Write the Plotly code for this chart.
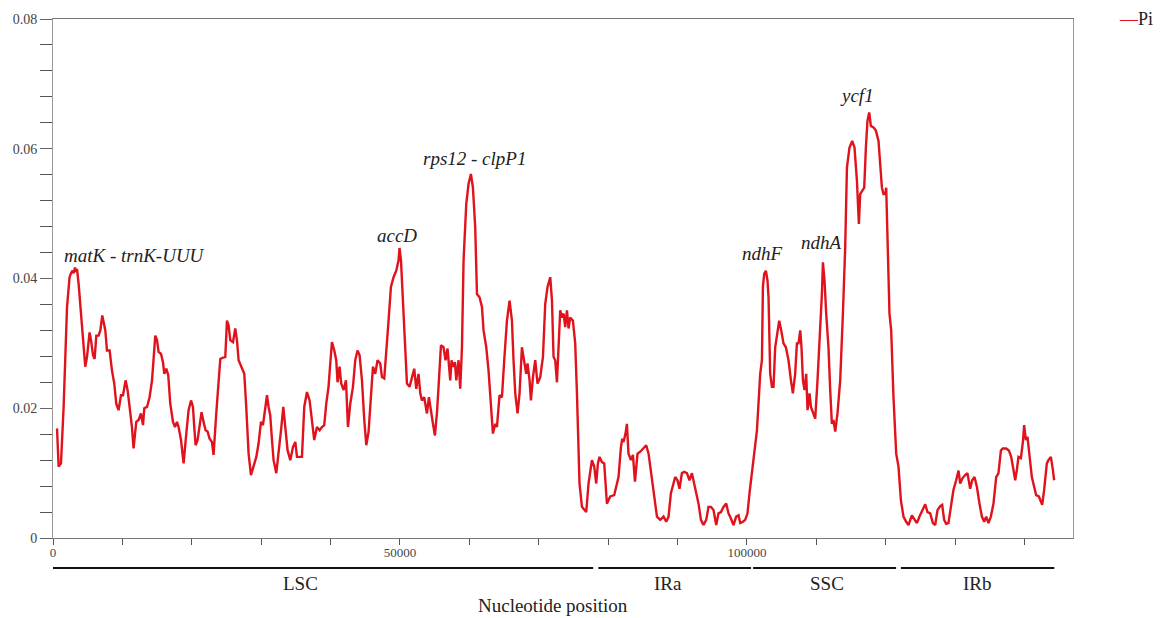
import plotly.graph_objects as go

# Sliding-window nucleotide diversity (Pi) along the chloroplast genome
position = [
    580, 810, 1150, 1530, 2020, 2390, 2590, 2820, 2970, 3170,
    3360, 3460, 3690, 3930, 4180, 4410, 4650, 4900, 5270, 5480,
    5760, 6000, 6240, 6570, 6820, 7100, 7290, 7540, 7780, 8160,
    8500, 8830, 9120, 9450, 9800, 10090, 10460, 10750, 11040, 11380,
    11610, 12000, 12340, 12680, 12970, 13160, 13550, 13920, 14270, 14500,
    14740, 14990, 15220, 15560, 15850, 16040, 16330, 16610, 16900, 17290,
    17580, 17870, 18100, 18450, 18820, 19210, 19540, 19890, 20170, 20360,
    20550, 20840, 21130, 21410, 21700, 21990, 22280, 22570, 22910, 23140,
    23530, 23860, 24110, 24500, 24830, 25070, 25300, 25550, 25940, 26270,
    26510, 26750, 27240, 27570, 27850, 28190, 28530, 28910, 29300, 29630,
    29970, 30260, 30590, 30840, 31070, 31310, 31560, 31790, 32180, 32510,
    32860, 33190, 33470, 33810, 34200, 34580, 34920, 35160, 35540, 35880,
    36210, 36600, 36980, 37320, 37650, 38040, 38420, 38760, 39090, 39380,
    39710, 39960, 40200, 40540, 40820, 41010, 41300, 41540, 41880, 42220,
    42510, 42840, 43230, 43560, 43890, 44180, 44530, 44860, 45150, 45480,
    45820, 46110, 46440, 46770, 47160, 47410, 47740, 48030, 48360, 48700,
    49080, 49470, 49800, 49940, 50150, 50430, 50770, 51010, 51390, 51730,
    52060, 52350, 52680, 52930, 53170, 53500, 53890, 54180, 54470, 54760,
    55040, 55330, 55620, 55910, 56280, 56570, 56860, 57060, 57250, 57440,
    57640, 57930, 58120, 58450, 58690, 58940, 59170, 59560, 59890, 60230,
    60520, 60850, 61100, 61470, 61820, 62050, 62440, 62770, 63120, 63400,
    63740, 63980, 64350, 64700, 65030, 65420, 65800, 66140, 66370, 66620,
    66950, 67240, 67580, 67910, 68200, 68390, 68680, 68880, 69170, 69500,
    69830, 70220, 70610, 70940, 71270, 71660, 71910, 72140, 72380, 72630,
    72910, 73100, 73350, 73580, 73820, 74070, 74300, 74540, 74930, 75260,
    75510, 75740, 75880, 76230, 76560, 76850, 77180, 77670, 78000, 78290,
    78530, 78760, 79110, 79440, 79830, 80310, 80880, 81270, 81500, 81850,
    82040, 82220, 82510, 82710, 82940, 83290, 83580, 83870, 84240, 84630,
    85100, 85490, 85830, 86170, 86550, 87040, 87510, 87990, 88380, 88710,
    89050, 89430, 89670, 90000, 90290, 90640, 90970, 91360, 91730, 92080,
    92310, 92700, 93030, 93380, 93750, 94140, 94470, 94820, 95190, 95580,
    95910, 96260, 96630, 97020, 97350, 97700, 98070, 98460, 98800, 99040,
    99430, 99760, 100090, 100380, 100730, 101060, 101450, 101920, 102170, 102310,
    102500, 102740, 102970, 103120, 103360, 103610, 103840, 104080, 104330, 104660,
    104950, 105280, 105620, 106000, 106350, 106630, 106960, 107210, 107440, 107690,
    107870, 108080, 108310, 108550, 108740, 109030, 109230, 109520, 109850, 110180,
    110570, 110810, 110960, 111190, 111430, 111760, 112010, 112250, 112480, 112730,
    113060, 113450, 113840, 114170, 114420, 114790, 115180, 115510, 115860, 116140,
    116330, 116580, 116910, 117150, 117380, 117630, 117870, 118250, 118590, 118970,
    119210, 119460, 119690, 119930, 120080, 120270, 120550, 120800, 121130, 121520,
    121850, 122200, 122570, 122960, 123290, 123780, 124110, 124500, 124880, 125370,
    125700, 126030, 126420, 126810, 127140, 127470, 127860, 128150, 128430, 128720,
    129050, 129400, 129770, 130160, 130500, 130740, 131070, 131460, 131790, 132180,
    132470, 132800, 133150, 133520, 133870, 134200, 134490, 134820, 135160, 135540,
    135930, 136260, 136610, 136890, 137370, 137760, 138090, 138420, 138670, 138910,
    139140, 139490, 139780, 139960, 140210, 140440, 140730, 141070, 141400, 141690,
    142080, 142560, 142840, 143230, 143460, 143810, 144100, 144280,
]

pi_value = [
    0.0169, 0.0110, 0.0115, 0.0202, 0.0356, 0.0402, 0.0408, 0.0412, 0.0408, 0.0417,
    0.0410, 0.0415, 0.0392, 0.0356, 0.0320, 0.0300, 0.0264, 0.0279, 0.0317, 0.0305,
    0.0282, 0.0276, 0.0312, 0.0312, 0.0320, 0.0343, 0.0335, 0.0320, 0.0289, 0.0289,
    0.0258, 0.0238, 0.0207, 0.0197, 0.0220, 0.0220, 0.0243, 0.0228, 0.0202, 0.0171,
    0.0138, 0.0179, 0.0182, 0.0192, 0.0174, 0.0200, 0.0202, 0.0217, 0.0243, 0.0274,
    0.0312, 0.0305, 0.0287, 0.0284, 0.0271, 0.0253, 0.0261, 0.0251, 0.0207, 0.0179,
    0.0171, 0.0179, 0.0171, 0.0151, 0.0115, 0.0161, 0.0197, 0.0212, 0.0202, 0.0171,
    0.0143, 0.0151, 0.0176, 0.0194, 0.0179, 0.0166, 0.0164, 0.0153, 0.0148, 0.0128,
    0.0192, 0.0238, 0.0276, 0.0278, 0.0279, 0.0335, 0.0328, 0.0305, 0.0302, 0.0323,
    0.0305, 0.0274, 0.0261, 0.0253, 0.0202, 0.0130, 0.0097, 0.0110, 0.0125, 0.0146,
    0.0179, 0.0174, 0.0202, 0.0220, 0.0202, 0.0189, 0.0151, 0.0120, 0.0100, 0.0130,
    0.0166, 0.0202, 0.0171, 0.0135, 0.0120, 0.0140, 0.0148, 0.0125, 0.0125, 0.0125,
    0.0202, 0.0225, 0.0212, 0.0176, 0.0151, 0.0171, 0.0166, 0.0171, 0.0174, 0.0207,
    0.0233, 0.0269, 0.0302, 0.0289, 0.0274, 0.0240, 0.0264, 0.0238, 0.0228, 0.0243,
    0.0171, 0.0207, 0.0233, 0.0274, 0.0289, 0.0282, 0.0243, 0.0182, 0.0143, 0.0164,
    0.0215, 0.0264, 0.0253, 0.0274, 0.0269, 0.0248, 0.0246, 0.0294, 0.0335, 0.0387,
    0.0402, 0.0412, 0.0428, 0.0447, 0.0428, 0.0366, 0.0294, 0.0238, 0.0233, 0.0248,
    0.0261, 0.0230, 0.0253, 0.0223, 0.0212, 0.0217, 0.0192, 0.0217, 0.0194, 0.0176,
    0.0158, 0.0192, 0.0243, 0.0297, 0.0294, 0.0274, 0.0292, 0.0258, 0.0243, 0.0274,
    0.0264, 0.0271, 0.0243, 0.0274, 0.0230, 0.0294, 0.0428, 0.0515, 0.0546, 0.0561,
    0.0540, 0.0479, 0.0376, 0.0371, 0.0356, 0.0320, 0.0294, 0.0258, 0.0207, 0.0161,
    0.0176, 0.0171, 0.0220, 0.0217, 0.0274, 0.0335, 0.0366, 0.0335, 0.0274, 0.0223,
    0.0192, 0.0223, 0.0294, 0.0274, 0.0253, 0.0269, 0.0243, 0.0212, 0.0248, 0.0274,
    0.0238, 0.0248, 0.0279, 0.0361, 0.0387, 0.0402, 0.0366, 0.0279, 0.0274, 0.0240,
    0.0310, 0.0351, 0.0340, 0.0346, 0.0325, 0.0351, 0.0323, 0.0340, 0.0335, 0.0300,
    0.0223, 0.0130, 0.0084, 0.0048, 0.0043, 0.0040, 0.0084, 0.0120, 0.0110, 0.0084,
    0.0115, 0.0125, 0.0117, 0.0115, 0.0053, 0.0064, 0.0066, 0.0084, 0.0094, 0.0140,
    0.0153, 0.0148, 0.0161, 0.0176, 0.0130, 0.0120, 0.0128, 0.0087, 0.0130, 0.0133,
    0.0138, 0.0143, 0.0130, 0.0105, 0.0069, 0.0033, 0.0028, 0.0033, 0.0025, 0.0033,
    0.0069, 0.0084, 0.0094, 0.0089, 0.0076, 0.0100, 0.0102, 0.0100, 0.0089, 0.0100,
    0.0089, 0.0074, 0.0053, 0.0028, 0.0020, 0.0028, 0.0048, 0.0048, 0.0043, 0.0020,
    0.0038, 0.0040, 0.0048, 0.0053, 0.0038, 0.0030, 0.0020, 0.0033, 0.0035, 0.0023,
    0.0025, 0.0028, 0.0038, 0.0069, 0.0100, 0.0125, 0.0166, 0.0253, 0.0274, 0.0387,
    0.0407, 0.0412, 0.0397, 0.0371, 0.0253, 0.0233, 0.0233, 0.0294, 0.0310, 0.0335,
    0.0320, 0.0300, 0.0294, 0.0274, 0.0243, 0.0223, 0.0253, 0.0300, 0.0300, 0.0320,
    0.0294, 0.0243, 0.0228, 0.0253, 0.0197, 0.0223, 0.0202, 0.0192, 0.0184, 0.0243,
    0.0320, 0.0376, 0.0425, 0.0397, 0.0346, 0.0294, 0.0228, 0.0176, 0.0182, 0.0164,
    0.0192, 0.0243, 0.0346, 0.0448, 0.0571, 0.0602, 0.0612, 0.0602, 0.0551, 0.0484,
    0.0530, 0.0535, 0.0540, 0.0602, 0.0643, 0.0656, 0.0635, 0.0633, 0.0628, 0.0612,
    0.0571, 0.0540, 0.0530, 0.0530, 0.0540, 0.0448, 0.0346, 0.0320, 0.0217, 0.0130,
    0.0110, 0.0058, 0.0033, 0.0025, 0.0020, 0.0035, 0.0030, 0.0023, 0.0033, 0.0043,
    0.0052, 0.0040, 0.0038, 0.0023, 0.0020, 0.0043, 0.0049, 0.0051, 0.0028, 0.0022,
    0.0023, 0.0048, 0.0074, 0.0089, 0.0104, 0.0084, 0.0092, 0.0097, 0.0100, 0.0076,
    0.0089, 0.0094, 0.0079, 0.0053, 0.0033, 0.0025, 0.0033, 0.0023, 0.0033, 0.0053,
    0.0094, 0.0100, 0.0135, 0.0138, 0.0138, 0.0135, 0.0125, 0.0105, 0.0089, 0.0105,
    0.0125, 0.0123, 0.0148, 0.0174, 0.0151, 0.0156, 0.0130, 0.0094, 0.0079, 0.0066,
    0.0064, 0.0051, 0.0074, 0.0115, 0.0120, 0.0125, 0.0105, 0.0089,
]

series_name = "Pi"

# Genome regions drawn below the axis
regions = ["LSC", "IRa", "SSC", "IRb"]
region_start = [-300, 78600, 100900, 122200]
region_end = [77850, 100600, 121500, 144300]
region_label_pos = [35600, 88700, 111600, 133300]

# Highly variable loci labels
genes = ["matK - trnK-UUU", "accD", "rps12 - clpP1", "ndhF", "ndhA", "ycf1"]
gene_pos = [11700, 49600, 60700, 102200, 110700, 115900]
gene_label_y = [0.0435, 0.0466, 0.0585, 0.0438, 0.0455, 0.0682]

x_tick_vals = list(range(0, 140001, 10000))
x_tick_labels = ["0", "50000", "100000"]
y_major = [0, 0.02, 0.04, 0.06, 0.08]
y_major_labels = ["0", "0.02", "0.04", "0.06", "0.08"]
y_minor = [0.004, 0.008, 0.012, 0.016, 0.024, 0.028, 0.032, 0.036,
           0.044, 0.048, 0.052, 0.056, 0.064, 0.068, 0.072, 0.076]

FONT = "'Liberation Serif', 'Times New Roman', Times, serif"
RED = "#e0121c"

fig = go.Figure()
fig.add_trace(go.Scatter(
    x=position, y=pi_value, mode="lines", name=series_name,
    line=dict(color=RED, width=2.4), showlegend=False,
))

shapes = []
annotations = []
for name, s, e, lp in zip(regions, region_start, region_end, region_label_pos):
    shapes.append(dict(type="line", xref="x", yref="paper", x0=s, x1=e,
                       y0=-0.058, y1=-0.058, line=dict(color="#111", width=2)))
    annotations.append(dict(text=name, xref="x", yref="paper", x=lp, y=-0.087,
                            showarrow=False, font=dict(family=FONT, size=19, color="#222"),
                            xanchor="center", yanchor="middle"))

for g, gx, gy in zip(genes, gene_pos, gene_label_y):
    annotations.append(dict(text="<i>%s</i>" % g, xref="x", yref="y", x=gx, y=gy,
                            showarrow=False, font=dict(family=FONT, size=19, color="#222"),
                            xanchor="center", yanchor="middle"))

annotations.append(dict(text="Nucleotide position", xref="paper", yref="paper",
                        x=0.49, y=-0.131, showarrow=False,
                        font=dict(family=FONT, size=19, color="#222"),
                        xanchor="center", yanchor="middle"))

# Compact legend key: short red dash followed by the series name
annotations.append(dict(text='<span style="color:%s">\u2014</span>%s' % (RED, series_name),
                        xref="paper", yref="paper", x=1.043, y=1.0,
                        showarrow=False, xanchor="left", yanchor="middle",
                        font=dict(family=FONT, size=18, color="#222")))

# The page adds an 8px body margin, so the figure is 8px smaller to fit the window
fig.update_layout(
    width=1154, height=610,
    margin=dict(l=45, r=89, t=11, b=80, autoexpand=False),
    paper_bgcolor="white", plot_bgcolor="white",
    font=dict(family=FONT, color="#333"),
    shapes=shapes, annotations=annotations,
    showlegend=False,
    xaxis=dict(range=[0, 147000], tickmode="array", tickvals=x_tick_vals,
               ticktext=[str(v) if str(v) in x_tick_labels else "" for v in x_tick_vals],
               ticks="outside", ticklen=6, tickcolor="#555", tickwidth=1,
               ticklabelstandoff=-4,
               showline=True, linecolor="#777", linewidth=1, mirror=True,
               showgrid=False, zeroline=False, automargin=False,
               tickfont=dict(family=FONT, size=13, color="#444")),
    yaxis=dict(range=[0, 0.08], tickmode="array", tickvals=y_major, ticktext=y_major_labels,
               ticks="outside", ticklen=12, tickcolor="#666", tickwidth=1,
               showline=True, linecolor="#999", linewidth=1, mirror=True,
               showgrid=False, zeroline=False, automargin=False,
               minor=dict(tickmode="array", tickvals=y_minor, ticks="outside",
                          ticklen=12, tickcolor="#555", tickwidth=1, showgrid=False),
               tickfont=dict(family=FONT, size=14, color="#444")),
)

fig.write_html("out.html")
